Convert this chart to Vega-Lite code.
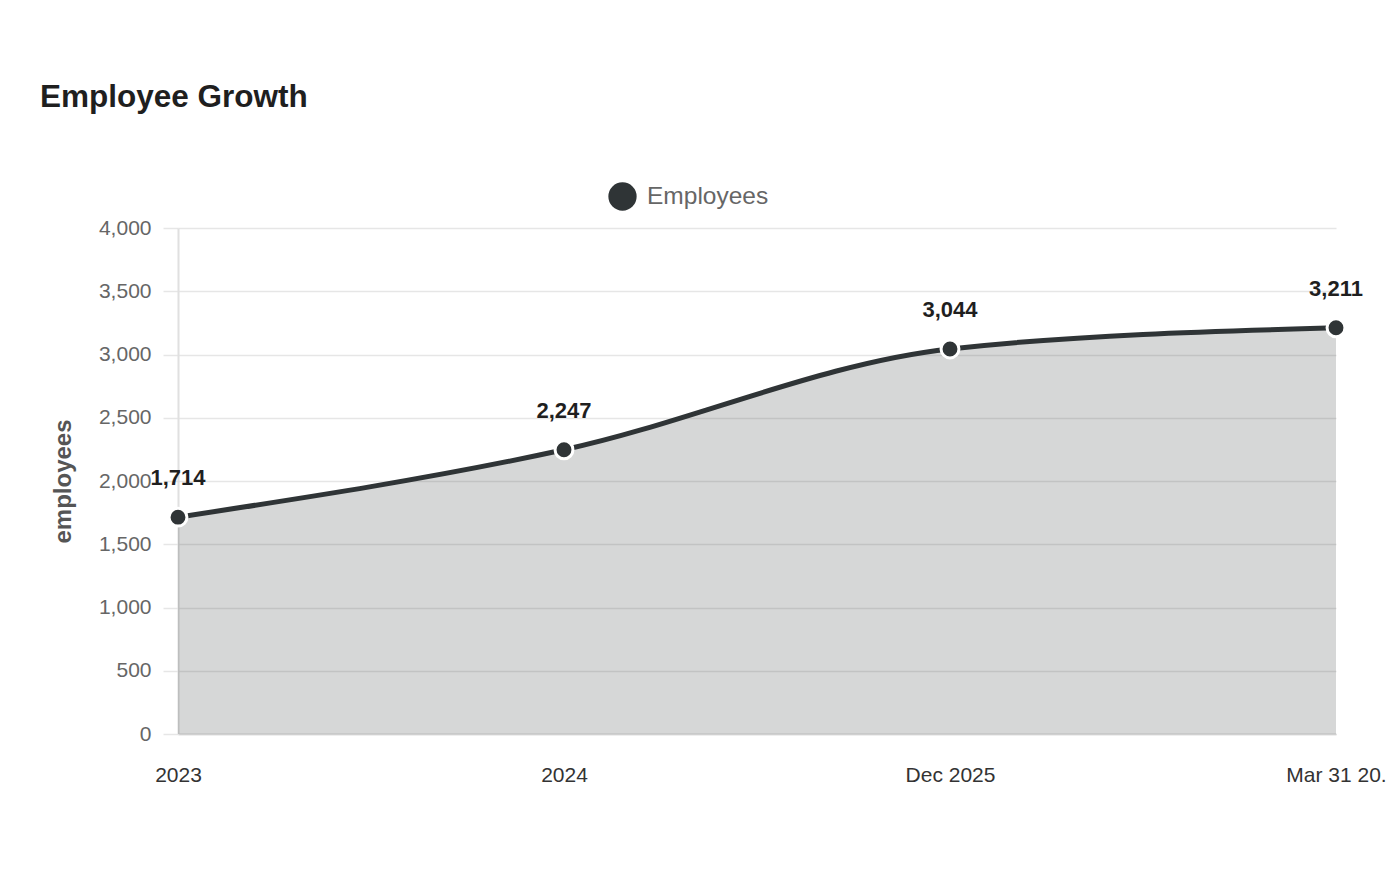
{
  "$schema": "https://vega.github.io/schema/vega-lite/v6.json",
  "autosize": {"type": "none"},
  "padding": {"left": 178, "top": 228, "right": 64, "bottom": 146},
  "width": 1158,
  "height": 506,
  "background": "#ffffff",
  "title": {
    "text": "Employee Growth",
    "anchor": "start",
    "frame": "group",
    "orient": "top",
    "dx": -138,
    "offset": 69,
    "font": "Liberation Sans",
    "fontSize": 31.5,
    "fontWeight": "bold",
    "color": "#1f1f1f"
  },
  "config": {
    "font": "Liberation Sans",
    "view": {"stroke": null}
  },
  "data": {
    "values": [
      {"period": "2023", "employees": 1714, "series": "Employees"},
      {"period": "2024", "employees": 2247, "series": "Employees"},
      {"period": "Dec 2025", "employees": 3044, "series": "Employees"},
      {"period": "Mar 31 20.", "employees": 3211, "series": "Employees"}
    ]
  },
  "encoding": {
    "x": {
      "field": "period",
      "type": "ordinal",
      "sort": null,
      "scale": {"type": "point", "padding": 0},
      "axis": {
        "title": null,
        "labelAngle": 0,
        "labelFontSize": 21,
        "labelColor": "#333333",
        "labelPadding": 30,
        "ticks": false,
        "domainColor": "#d0d0d0",
        "domainWidth": 1.5,
        "grid": false
      }
    },
    "y": {
      "field": "employees",
      "type": "quantitative",
      "scale": {"domain": [0, 4000]},
      "axis": {
        "title": "employees",
        "titleFontSize": 24,
        "titleFontWeight": "bold",
        "titleColor": "#555555",
        "titlePadding": 23,
        "values": [0, 500, 1000, 1500, 2000, 2500, 3000, 3500, 4000],
        "format": ",.0f",
        "labelFontSize": 21,
        "labelColor": "#666666",
        "labelPadding": 12,
        "tickSize": 15,
        "tickColor": "#e6e6e6",
        "tickWidth": 1.5,
        "gridColor": "#e6e6e6",
        "gridWidth": 1.5,
        "domainColor": "#e0e0e0",
        "domainWidth": 2
      }
    }
  },
  "layer": [
    {
      "mark": {"type": "area", "interpolate": "monotone", "color": "#333636", "opacity": 0.2}
    },
    {
      "mark": {"type": "line", "interpolate": "monotone", "color": "#2f3436", "strokeWidth": 5}
    },
    {
      "mark": {"type": "point", "filled": true, "size": 320, "opacity": 1, "stroke": "#ffffff", "strokeWidth": 3, "strokeOpacity": 1},
      "encoding": {
        "color": {
          "field": "series",
          "type": "nominal",
          "scale": {"range": ["#2f3436"]},
          "legend": {
            "title": null,
            "orient": "none",
            "legendX": 430,
            "legendY": -46,
            "symbolType": "circle",
            "symbolSize": 800,
            "symbolStrokeWidth": 0,
            "labelFontSize": 24.5,
            "labelColor": "#666666",
            "labelOffset": 10
          }
        }
      }
    },
    {
      "mark": {"type": "text", "dy": -39, "fontSize": 22, "fontWeight": "bold", "color": "#1f1f1f"},
      "encoding": {
        "text": {"field": "employees", "type": "quantitative", "format": ","}
      }
    }
  ]
}
